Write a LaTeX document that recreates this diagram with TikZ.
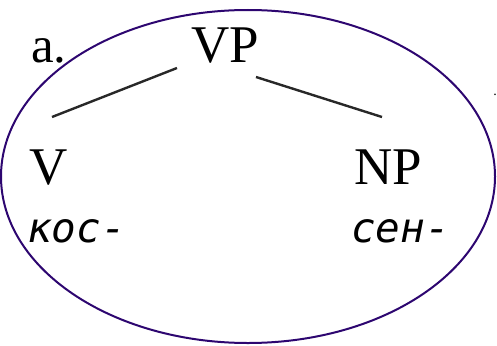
\documentclass[tikz,border=0pt]{standalone}
\usepackage{fontspec}
\setmainfont{Liberation Serif}
\newfontfamily\cyrmono{DejaVu Sans Mono}
\definecolor{ovalc}{RGB}{45,6,112}
\definecolor{linec}{RGB}{40,40,40}
\begin{document}
\begin{tikzpicture}[x=1pt,y=-1pt,
  lab/.style={inner sep=0pt,outer sep=0pt,anchor=base west,font=\fontsize{53}{60}\selectfont},
  morph/.style={inner sep=0pt,outer sep=0pt,anchor=base west,font=\cyrmono\itshape\fontsize{41}{48}\selectfont},
  branch/.style={draw=linec,line width=2.4pt}]
\useasboundingbox (0,0) rectangle (497,345);
\draw[ovalc,line width=2pt] (248,176.5) ellipse [x radius=247, y radius=166.5];
\node[lab,font=\fontsize{51}{58}\selectfont] (a) at (31,63) {a.};
\node[lab] (vp) at (191,63) {VP};
\node[lab] (v) at (29,184) {V};
\node[lab] (np) at (354,184) {NP};
\node[morph] (kos) at (27,242) {кос-};
\node[morph] (sen) at (351,242) {сен-};
\node[inner sep=0pt,font=\fontsize{14}{16}\selectfont] (dot) at (495,95) {.};
\coordinate (vpl) at (177,68);
\coordinate (vl) at (52,117);
\coordinate (vpr) at (256,77);
\coordinate (npr) at (382,117);
\draw[branch] (vpl) -- (vl);
\draw[branch] (vpr) -- (npr);
\end{tikzpicture}
\end{document}
